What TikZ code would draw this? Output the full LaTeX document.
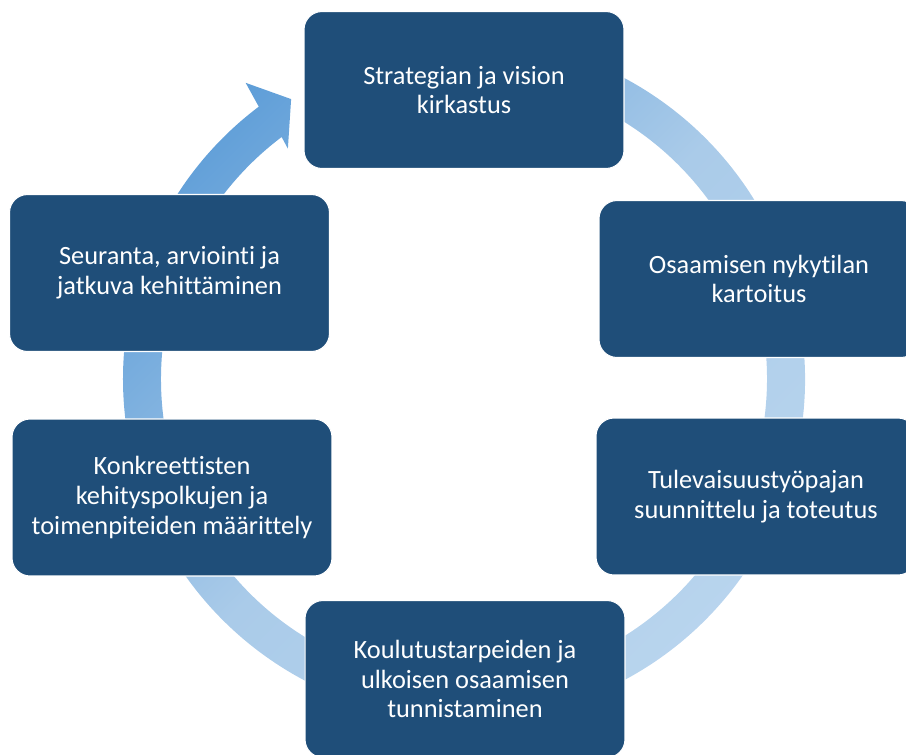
\documentclass[tikz,border=0pt]{standalone}
\usepackage{fontspec}
\setmainfont{Carlito}[Ligatures={NoCommon,NoRare,NoContextual},RawFeature=-calt]
\definecolor{boxblue}{RGB}{31,78,121}
\definecolor{ringdark}{RGB}{95,158,216}
\definecolor{ringmid}{RGB}{170,203,233}
\definecolor{ringlight}{RGB}{185,213,238}
\begin{document}
\begin{tikzpicture}[x=0.02cm,y=0.02cm,
  stagebox/.style={fill=boxblue, draw=white, line width=0.6pt, rounded corners=0.36cm,
    minimum width=6.4cm, minimum height=3.14cm, text=white, align=center,
    font=\fontsize{15}{17}\selectfont, inner sep=0pt}]
\useasboundingbox (0,0) rectangle (906,-754);
\coordinate (O) at (464,-379);
\shade[top color=ringdark, bottom color=ringlight, middle color=ringmid, shading angle=45]
  ([shift={(O)}]100:341) arc[start angle=100, end angle=-233, radius=341]
  -- ([shift={(O)}]126.4:368) -- ([shift={(O)}]121.7:329) -- ([shift={(O)}]127.4:290)
  -- ([shift={(O)}]127:303) arc[start angle=-233, end angle=100, radius=303] -- cycle;
\node[stagebox] (s1) at (464,-90) {Strategian ja vision\\kirkastus};
\node[stagebox] (s2) at (759,-279) {Osaamisen nykytilan\\kartoitus};
\node[stagebox] (s3) at (756,-496.5) {Tulevaisuustyöpajan\\suunnittelu ja toteutus};
\node[stagebox] (s4) at (465,-679) {Koulutustarpeiden ja\\ulkoisen osaamisen\\tunnistaminen};
\node[stagebox] (s5) at (172,-497.5) {Konkreettisten\\kehityspolkujen ja\\toimenpiteiden määrittely};
\node[stagebox] (s6) at (169.5,-273) {Seuranta, arviointi ja\\jatkuva kehittäminen};
\end{tikzpicture}
\end{document}
